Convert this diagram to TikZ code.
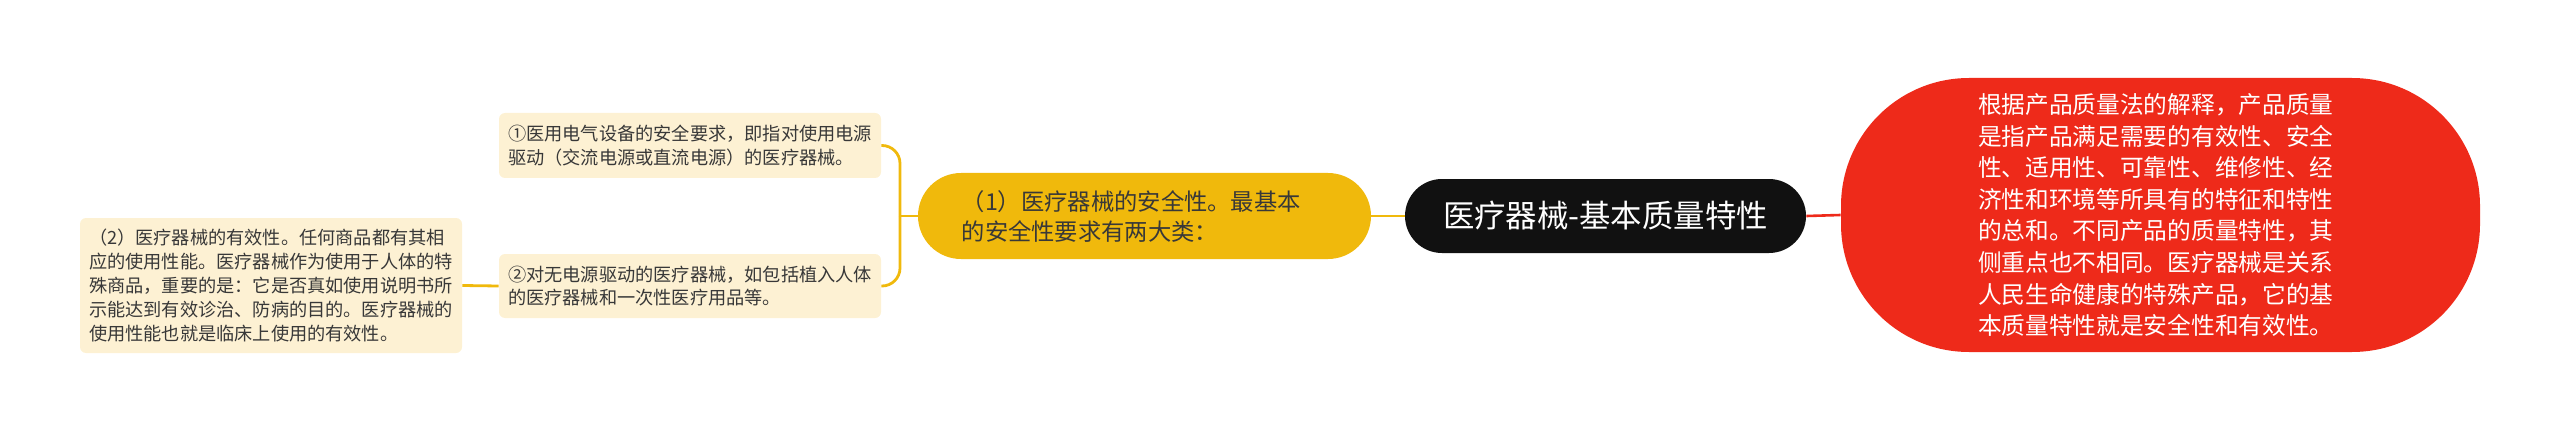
\documentclass[tikz,border=0pt]{standalone}
\usepackage{fontspec}
\setmainfont{Noto Sans CJK SC}
\usepackage{tikz}
\usepackage{xcolor}
\usetikzlibrary{shapes, calc, positioning}
\definecolor{mapcream}{rgb}{0.992, 0.945, 0.827}
\definecolor{mapgold}{rgb}{0.941, 0.725, 0.047}
\definecolor{mapred}{rgb}{0.933, 0.165, 0.102}
\definecolor{mapink}{rgb}{0.067, 0.067, 0.067}
\definecolor{maptext}{rgb}{0.22, 0.22, 0.22}

\begin{document}
\begin{tikzpicture}[x=0.5pt, y=-0.5pt, every node/.style={align=left, inner ysep=0pt},
        leaf/.style={fill=mapcream, rounded corners=3pt, text=maptext, text width=182pt, inner xsep=4.5pt, font=\fontsize{9.1pt}{11.9pt}\selectfont},
        goldline/.style={draw=mapgold, line width=1.4pt},
        redline/.style={draw=mapred, line width=1.3pt}]
        \useasboundingbox (0,0) rectangle (2560,433);

        \node[fill=mapink, rounded corners=18.5pt, minimum width=200.5pt, minimum height=37pt, text=white, align=center, font=\fontsize{15.7pt}{18pt}\selectfont] (Q0) at (1605.5,216) {医疗器械-基本质量特性};

        \node[fill=mapred, rounded corners=64pt, minimum width=319.5pt, minimum height=137pt, text width=182.5pt, inner xsep=0pt, text=white, font=\fontsize{11.85pt}{15.8pt}\selectfont] (Q1) at (2160.5,215) {根据产品质量法的解释，产品质量\\是指产品满足需要的有效性、安全\\性、适用性、可靠性、维修性、经\\济性和环境等所具有的特征和特性\\的总和。不同产品的质量特性，其\\侧重点也不相同。医疗器械是关系\\人民生命健康的特殊产品，它的基\\本质量特性就是安全性和有效性。};

        \node[fill=mapgold, rounded corners=21.5pt, minimum height=43pt, text width=182.8pt, inner xsep=21.85pt, text=maptext, font=\fontsize{11.65pt}{15pt}\selectfont] (S0) at (1144.5,216) {（1）医疗器械的安全性。最基本\\的安全性要求有两大类：};

        \node[leaf, minimum height=32.5pt] (S1) at (690,145.5) {①医用电气设备的安全要求，即指对使用电源\\驱动（交流电源或直流电源）的医疗器械。};
        \node[leaf, minimum height=32pt] (S2) at (690,286) {②对无电源驱动的医疗器械，如包括植入人体\\的医疗器械和一次性医疗用品等。};
        \node[leaf, minimum height=67.5pt] (E1) at (271,285.5) {（2）医疗器械的有效性。任何商品都有其相\\应的使用性能。医疗器械作为使用于人体的特\\殊商品，重要的是：它是否真如使用说明书所\\示能达到有效诊治、防病的目的。医疗器械的\\使用性能也就是临床上使用的有效性。};

        \coordinate (J) at (900,216);
        \draw[goldline] (Q0.west) -- (S0.east);
        \draw[redline] (Q0.east) -- (Q1.west);
        \draw[goldline] (S0.west) -- (J);
        \foreach \n in {1, 2}{
            \draw[goldline, rounded corners=9pt] (J) |- (S\n.east);
        }
        \draw[goldline] (S2.west) -- (E1.east);
    \end{tikzpicture}
\end{document}
